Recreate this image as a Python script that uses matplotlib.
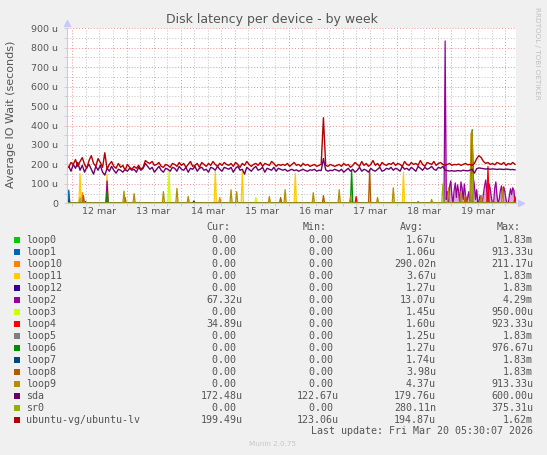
import numpy as np
import matplotlib
matplotlib.use('Agg')
import matplotlib.pyplot as plt
from matplotlib.patches import Rectangle

W, H = 547, 455

# time axis in days, 0 = 12 mar 00:00
t_start = -0.11
day_labels = ['12 mar', '13 mar', '14 mar', '15 mar', '16 mar', '17 mar', '18 mar', '19 mar']

# hourly readings (microseconds)
ubuntu_lv = [195, 185, 210, 200, 225, 190, 215, 235, 200, 180, 220, 245, 205, 190, 230, 210, 185, 260, 175, 200, 215, 190, 180, 205,
             185, 195, 170, 200, 185, 175, 190, 180, 195, 175, 185, 220, 210, 205, 215, 195, 200, 210, 190, 185, 200, 195, 185, 205,
             200, 190, 210, 195, 205, 185, 200, 215, 190, 195, 205, 185, 210, 200, 190, 205, 195, 215, 200, 190, 205, 195, 210, 200,
             195, 205, 190, 210, 200, 185, 205, 195, 215, 200, 190, 200, 205, 195, 210, 190, 205, 200, 195, 215, 205, 190, 200, 195,
             200, 195, 205, 190, 200, 210, 195, 200, 190, 205, 195, 200, 190, 195, 200, 190, 195, 200, 440, 195, 190, 200, 195, 190,
             195, 200, 190, 205, 195, 200, 185, 195, 210, 200, 190, 215, 195, 205, 190, 200, 220, 195, 205, 190, 210, 200, 195, 205,
             200, 210, 195, 205, 200, 190, 215, 200, 195, 210, 200, 205, 195, 220, 200, 190, 210, 205, 200, 215, 195, 205, 210, 200,
             195, 200, 205, 195, 200, 198, 202, 195, 200, 205, 198, 200, 195, 205, 230, 245, 235, 215, 205, 210, 200, 205, 198, 210,
             205, 200, 210, 195, 205, 200, 210, 200]
sda = [175, 190, 165, 200, 180, 210, 170, 195, 160, 185, 200, 175, 150, 190, 170, 195, 160, 145, 180, 165, 190, 170, 155, 175,
       170, 160, 175, 165, 180, 170, 175, 160, 185, 170, 180, 205, 190, 175, 185, 160, 175, 190, 170, 160, 180, 175, 165, 185,
       180, 165, 190, 175, 170, 185, 160, 180, 175, 190, 165, 180, 185, 170, 175, 160, 185, 180, 170, 190, 175, 165, 185, 180,
       175, 185, 160, 180, 190, 170, 175, 150, 185, 175, 165, 180, 190, 170, 175, 185, 160, 180, 175, 170, 185, 165, 180, 175,
       170, 175, 165, 170, 175, 168, 172, 165, 170, 175, 168, 165, 172, 170, 175, 165, 170, 168, 230, 172, 165, 170, 168, 175,
       170, 165, 175, 160, 170, 180, 165, 175, 160, 170, 185, 165, 175, 170, 160, 180, 170, 165, 175, 185, 165, 170, 180, 175,
       185, 170, 180, 175, 165, 190, 175, 180, 170, 185, 175, 165, 190, 180, 170, 185, 175, 180, 190, 175, 170, 185, 180, 190,
       170, 168, 166, 168, 165, 167, 168, 166, 170, 168, 167, 170, 175, 155, 178, 182, 180, 178, 176, 178, 175, 177, 176, 174,
       176, 175, 174, 176, 175, 173, 174, 172]

# loop2 half-hourly readings after the 18 mar peak
loop2_tail_start = 6.92
loop2_tail = [20, 60, 10, 90, 115, 40, 0, 70, 105, 30, 95, 60, 0, 110, 80, 20, 100, 45, 0, 30, 60, 0, 0, 120, 130, 90, 20, 70,
              0, 10, 40, 0, 0, 50, 90, 120, 60, 10, 100, 75, 30, 0, 0, 80, 110, 40, 0, 20, 65, 90, 30, 85, 60, 20, 0, 0, 40, 75,
              45, 80, 67]

# spikes of the mostly idle devices: (day, value)
spikes = {
    'loop0': [(7.39, 380)],
    'loop1': [(-0.07, 68), (0.13, 30)],
    'loop10': [(0.19, 55), (2.72, 30), (7.27, 40)],
    'loop11': [(0.13, 154), (0.65, 150), (2.63, 165), (3.13, 165), (4.12, 155), (6.12, 160)],
    'loop12': [(0.24, 8), (1.25, 5), (7.39, 372)],
    'loop2': [(0.65, 115), (6.885, 835)],
    'loop3': [(1.78, 163), (3.40, 30)],
    'loop4': [(5.25, 35), (7.69, 190), (8.18, 35)],
    'loop5': [(3.25, 5), (6.38, 10)],
    'loop6': [(0.65, 60), (2.24, 10), (5.16, 168)],
    'loop7': [(-0.07, 20), (2.24, 12)],
    'loop8': [(0.20, 40), (0.97, 30), (3.84, 30), (4.65, 40), (5.49, 170), (7.27, 40), (7.39, 360)],
    'loop9': [(0.95, 63), (1.13, 50), (1.69, 60), (1.94, 77), (2.14, 35), (2.93, 70), (3.03, 60), (3.64, 35), (3.94, 70),
              (4.45, 55), (4.94, 70), (5.13, 35), (5.64, 30), (5.94, 80), (6.65, 20), (6.95, 80), (7.18, 60), (7.375, 360),
              (7.396, 370), (7.56, 40), (7.95, 80)],
    'sr0': [(6.85, 100), (7.39, 150)],
}

names = ['loop0', 'loop1', 'loop10', 'loop11', 'loop12', 'loop2', 'loop3', 'loop4', 'loop5', 'loop6', 'loop7',
         'loop8', 'loop9', 'sda', 'sr0', 'ubuntu-vg/ubuntu-lv']
colors = ['#00CC00', '#0066B3', '#FF8000', '#FFCC00', '#330099', '#990099', '#CCFF00', '#FF0000', '#808080', '#008F00',
          '#00487D', '#B35A00', '#B38F00', '#6B006B', '#8FB300', '#B30000']
cur = ['0.00', '0.00', '0.00', '0.00', '0.00', '67.32u', '0.00', '34.89u', '0.00', '0.00', '0.00', '0.00', '0.00',
       '172.48u', '0.00', '199.49u']
mins = ['0.00'] * 13 + ['122.67u', '0.00', '123.06u']
avgs = ['1.67u', '1.06u', '290.02n', '3.67u', '1.27u', '13.07u', '1.45u', '1.60u', '1.25u', '1.27u', '1.74u', '3.98u',
        '4.37u', '179.76u', '280.11n', '194.87u']
maxs = ['1.83m', '913.33u', '211.17u', '1.83m', '1.83m', '4.29m', '950.00u', '923.33u', '1.83m', '976.67u', '1.83m',
        '1.83m', '913.33u', '600.00u', '375.31u', '1.62m']

txt = '#555555'
mono = 'DejaVu Sans Mono'

fig = plt.figure(figsize=(W / 100, H / 100), dpi=100, facecolor='#F0F0F0')
ax = fig.add_axes([66.5 / W, 1 - 203.3 / H, (516 - 66.5) / W, 175 / H])
ax.set_facecolor('white')

# half-hour sample grid for the idle devices
grid_t = t_start + np.arange(0, 400) / 48.0
hour_t = t_start + np.arange(len(sda)) / 24.0

for name, c in zip(names, colors):
    if name == 'sda':
        ax.plot(hour_t, sda, color=c, lw=1.0)
        continue
    if name == 'ubuntu-vg/ubuntu-lv':
        ax.plot(hour_t, ubuntu_lv, color=c, lw=1.0)
        continue
    y = np.zeros(len(grid_t))
    for t, v in spikes[name]:
        y[int(round((t - t_start) * 48))] = v
    if name == 'loop2':
        k0 = int(round((loop2_tail_start - t_start) * 48))
        y[k0:k0 + len(loop2_tail)] = loop2_tail
    ax.fill_between(grid_t, y, color=c, alpha=0.35, lw=0)
    ax.plot(grid_t, y, color=c, lw=0.9)

ax.set_xlim(t_start, 8.2)
ax.set_ylim(0, 900)

# grid
ax.set_yticks(np.arange(0, 901, 100))
ax.set_yticks(np.arange(50, 900, 100), minor=True)
ax.set_yticklabels(['0'] + ['%d u' % v for v in range(100, 901, 100)])
ax.set_xticks(np.arange(0, 9))
ax.set_xticks(np.arange(-0.0, 8.2, 0.25), minor=True)
ax.set_xticklabels([])
ax.grid(which='major', color='#EE9090', linestyle=(0, (1, 2)), lw=0.7)
ax.grid(which='minor', color='#C0C0C0', linestyle=(0, (1, 2)), lw=0.7)
ax.set_axisbelow(True)
ax.tick_params(which='both', length=2, width=0.6, color='#C8C8C8', labelsize=6.8, labelcolor=txt, pad=4)
for i, lab in enumerate(day_labels):
    ax.text(i + 0.5, -0.048, lab, transform=ax.get_xaxis_transform(), ha='center', va='center',
            fontsize=6.8, color=txt)

for s in ['top', 'right']:
    ax.spines[s].set_visible(False)
for s in ['left', 'bottom']:
    ax.spines[s].set_color('#C8C8FF')
    ax.spines[s].set_linewidth(0.8)
ax.plot([1.012], [0], marker='>', ms=4, color='#C8C8FF', transform=ax.transAxes, clip_on=False)
ax.plot([0], [1.03], marker='^', ms=4, color='#C8C8FF', transform=ax.transAxes, clip_on=False)


def P(x, y):
    return x / W, 1 - y / H


fig.text(*P(272, 19), 'Disk latency per device - by week', ha='center', va='center', fontsize=9, color=txt)
fig.text(*P(11, 114), 'Average IO Wait (seconds)', ha='center', va='center', rotation=90, fontsize=8, color=txt)
fig.text(*P(537, 53), 'RRDTOOL / TOBI OETIKER', ha='center', va='center', rotation=270, fontsize=5.2,
         color='#C0C0C0')

# legend table
for x, h in zip([230.5, 327, 423.5, 520.5], ['Cur:', 'Min:', 'Avg:', 'Max:']):
    fig.text(*P(x, 227.3), h, ha='right', va='center', fontsize=7.2, family=mono, color=txt)


def cell(s):
    return s if s[-1] in 'umn' else s + ' '


for i, (name, c) in enumerate(zip(names, colors)):
    y = 239.7 + 12 * i
    fig.add_artist(Rectangle(P(14, y + 3), 6 / W, 6 / H, transform=fig.transFigure, color=c, lw=0))
    fig.text(*P(26, y), name, ha='left', va='center', fontsize=7.2, family=mono, color=txt)
    for x, vals in zip([242.5, 339, 436, 533], [cur, mins, avgs, maxs]):
        fig.text(*P(x, y), cell(vals[i]), ha='right', va='center', fontsize=7.2, family=mono, color=txt)

fig.text(*P(533, 431), 'Last update: Fri Mar 20 05:30:07 2026', ha='right', va='center', fontsize=7.2,
         family=mono, color=txt)
fig.text(*P(273, 444), 'Munin 2.0.75', ha='center', va='center', fontsize=5.2, color='#C8C8C8')

fig.savefig('out.png', dpi=100, facecolor=fig.get_facecolor())
